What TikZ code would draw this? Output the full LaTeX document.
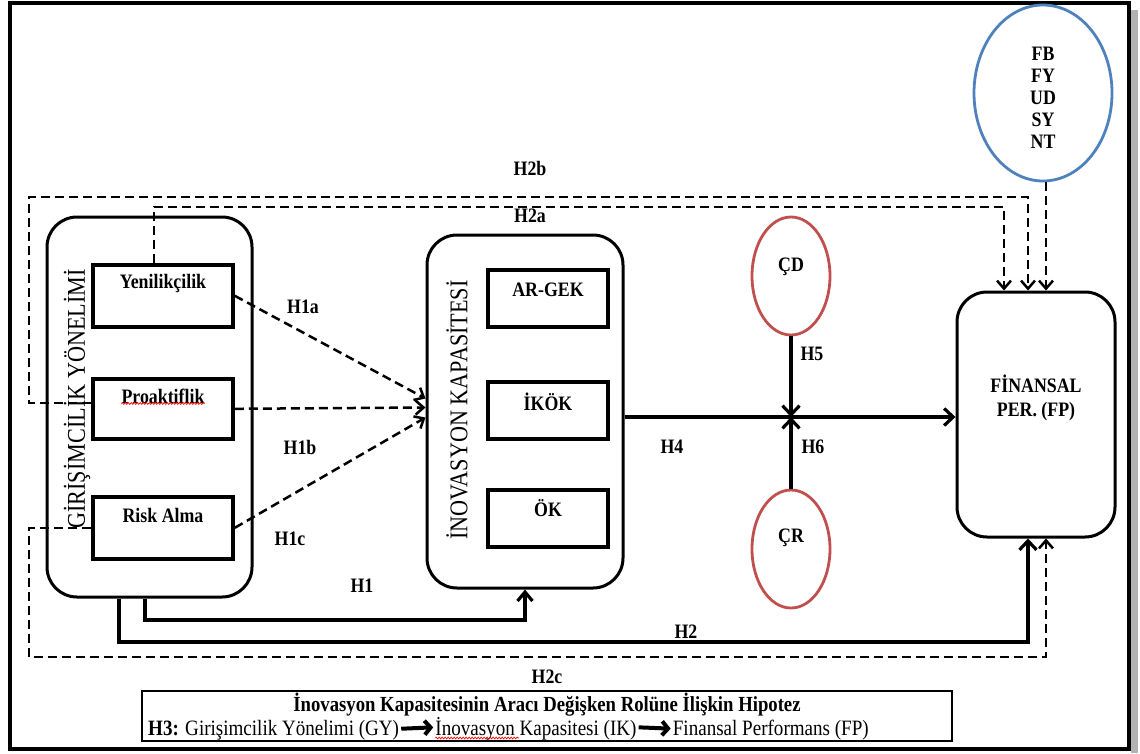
\documentclass[tikz,border=0pt]{standalone}
\usepackage{fontspec}
\setmainfont[FakeStretch=0.87]{Liberation Serif}
\usetikzlibrary{arrows.meta,shapes.geometric,decorations.pathmorphing}

\definecolor{ringblue}{RGB}{79,129,189}
\definecolor{ringred}{RGB}{192,80,77}

\begin{document}
\begin{tikzpicture}[x=1pt,y=-1pt,
  every node/.style={inner sep=0pt},
  lab/.style={font=\fontsize{20.5}{24}\selectfont\bfseries},
  vlab/.style={font=\fontsize{25.5}{28}\selectfont, rotate=90},
  group/.style={draw, line width=3pt, rounded corners=30pt},
  itembox/.style={draw, line width=3.6pt, anchor=north},
  ring/.style={ellipse, draw, line width=2.8pt},
  conn/.style={line width=3.2pt, -{Straight Barb[length=9pt,width=17pt]}},
  plain/.style={line width=3.2pt},
  dconn/.style={line width=2.5pt, dash pattern=on 9pt off 5pt,
                -{Straight Barb[length=8pt,width=14pt]}},
  wavy/.style={draw=red, line width=0.7pt, decorate,
               decoration={snake, amplitude=0.9pt, segment length=3pt}},
  fat/.style={line width=4pt, -{Straight Barb[length=6pt,width=14pt]}},
  botfont/.style={font=\fontsize{21.9}{24}\selectfont}
]
\useasboundingbox (0,0) rectangle (1140,753);

% outer frame with its shadow
\fill[black!30] (1131,10) rectangle (1138,753);
\draw[line width=4.8pt] (10,3) rectangle (1129,749);

% entrepreneurial orientation block
\node[group, minimum width=205pt, minimum height=380pt] (gy) at (149.5,407) {};
\node[itembox, minimum width=140pt, minimum height=62pt] (yen) at (163,263) {};
\node[itembox, minimum width=140pt, minimum height=60pt] (pro) at (163,377) {};
\node[itembox, minimum width=140pt, minimum height=62pt] (risk) at (163,495) {};
\node[lab] (yent) at (163,283) {Yenilikçilik};
\node[lab] (prot) at (163,396) {Proaktiflik};
\node[lab] (riskt) at (163,515) {Risk Alma};
\draw[wavy] (prot.south west) -- (prot.south east);
\node[vlab] (gyt) at (77,399) {GİRİŞİMCİLİK YÖNELİMİ};

% innovation capacity block
\node[group, minimum width=196pt, minimum height=353pt] (ik) at (525,411.5) {};
\node[itembox, minimum width=120pt, minimum height=57pt] (arg) at (548,268) {};
\node[itembox, minimum width=120pt, minimum height=57pt] (ikok) at (548,380) {};
\node[itembox, minimum width=120pt, minimum height=57pt] (ok) at (548,488) {};
\node[lab] (argt) at (548,290) {AR-GEK};
\node[lab] (ikokt) at (548,402) {İKÖK};
\node[lab] (okt) at (548,508) {ÖK};
\node[vlab] (ikt) at (457,410) {İNOVASYON KAPASİTESİ};

% financial performance
\node[group, minimum width=158pt, minimum height=245pt] (fp) at (1036,414.5) {};
\node[lab, align=center, font=\fontsize{20.5}{24}\selectfont\bfseries] (fpt) at (1036,398) {FİNANSAL\\PER. (FP)};

% control variables and moderators
\node[ring, draw=ringblue, minimum width=138pt, minimum height=176pt] (fb) at (1043,93) {};
\node[lab, align=center, font=\fontsize{20.5}{22}\selectfont\bfseries] (fbt) at (1043,97.5) {FB\\FY\\UD\\SY\\NT};
\node[ring, draw=ringred, minimum width=78pt, minimum height=118pt] (cd) at (791,276) {};
\node[ring, draw=ringred, minimum width=78pt, minimum height=118pt] (cr) at (791,549) {};
\node[lab] (cdt) at (791,267) {ÇD};
\node[lab] (crt) at (791,538) {ÇR};

% turning points of the connectors
\coordinate (mid) at (791,417);
\coordinate (h1A) at (525,620);
\coordinate (h2A) at (1028,642);
\coordinate (h2aA) at (154,207);
\coordinate (h2bA) at (29,197);
\coordinate (h2cA) at (29,657);

% hypotheses H1a-H1c
\draw[dconn] (yen.east) -- ([yshift=13pt]ik.west);
\draw[dconn] (pro.east) -- ([yshift=4pt]ik.west);
\draw[dconn] (risk.east) -- ([yshift=-6pt]ik.west);

% H4, H5, H6
\draw[conn] (ik.east |- mid) -- (fp.west |- mid);
\draw[conn] (cd.south) -- (mid);
\draw[conn] (cr.north) -- (mid);

% H1 and H2
\draw[plain, -{Straight Barb[length=9pt,width=15pt]}] ([xshift=-4.5pt]gy.south) |- (h1A) -- (ik.south);
\draw[plain, -{Straight Barb[length=9pt,width=17pt]}] ([xshift=-30.5pt]gy.south) |- (h2A) -- ([xshift=-8pt]fp.south);

% H2a, H2b, H2c and the control variables
\draw[dconn] ([xshift=-9pt]yen.north) -- (h2aA) -| ([xshift=-32pt]fp.north);
\draw[dconn] ([yshift=6pt]pro.west) -| (h2bA) -| ([xshift=-8pt]fp.north);
\draw[dconn] (risk.west) -| (h2cA) -| ([xshift=10pt]fp.south);
\draw[dconn] ([xshift=10pt]fp.north |- fb.south) -- ([xshift=10pt]fp.north);

% hypothesis labels
\node[lab] (l1a) at (303,307) {H1a};
\node[lab] (l1b) at (300,447) {H1b};
\node[lab] (l1c) at (290,539) {H1c};
\node[lab] (l1) at (362,586) {H1};
\node[lab] (l2) at (686,632) {H2};
\node[lab] (l2a) at (530,216) {H2a};
\node[lab] (l2b) at (530,168) {H2b};
\node[lab] (l2c) at (547,677) {H2c};
\node[lab] (l4) at (672,447) {H4};
\node[lab] (l5) at (812,354) {H5};
\node[lab] (l6) at (813,447) {H6};

% mediation hypothesis box
\node[draw, line width=1.5pt, minimum width=810pt, minimum height=50pt] (hyp) at (547,716) {};
\node[lab, font=\fontsize{21.5}{24}\selectfont\bfseries] (hypt) at (547,705) {İnovasyon Kapasitesinin Aracı Değişken Rolüne İlişkin Hipotez};
\node[anchor=base west, botfont] (h3a) at (148,735) {\textbf{H3:} Girişimcilik  Yönelimi (GY)};
\node[anchor=base west, botfont] (h3b) at ([xshift=36pt]h3a.base east) {İnovasyon Kapasitesi (IK)};
\node[anchor=base west, botfont] (h3c) at ([xshift=36pt]h3b.base east) {Finansal  Performans (FP)};
\draw[fat] ([xshift=2pt,yshift=1pt]h3a.east) -- ([xshift=-2pt,yshift=1pt]h3b.west);
\draw[fat] ([xshift=2pt,yshift=1pt]h3b.east) -- ([xshift=-2pt,yshift=1pt]h3c.west);
\coordinate (wavyend) at ([xshift=84pt]h3b.base west);
\draw[wavy] ([yshift=-3pt]h3b.base west) -- ([yshift=-3pt]wavyend);
\end{tikzpicture}
\end{document}
